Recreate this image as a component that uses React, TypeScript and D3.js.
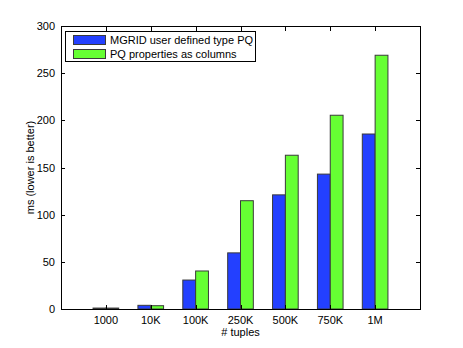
import React, { useEffect, useRef } from 'react';
import * as d3 from 'd3';

const categories = ['1000', '10K', '100K', '250K', '500K', '750K', '1M'];
const mgridValues = [1, 3.9, 30.7, 59.5, 121, 143, 185.5];
const columnValues = [1, 3.5, 40.3, 114.8, 163, 205.4, 269];
const seriesNames = ['MGRID user defined type PQ', 'PQ properties as columns'];
const yTicks = [0, 50, 100, 150, 200, 250, 300];

const App = () => {
  const svgRef = useRef<SVGSVGElement>(null);

  useEffect(() => {
    const width = 463;
    const height = 348;
    const left = 61;
    const right = 420;
    const top = 26;
    const bottom = 309;
    const font = '"Liberation Sans", Arial, sans-serif';
    const colors = ['#2340ff', '#66ff33'];

    const svg = d3.select(svgRef.current)
      .attr('width', width)
      .attr('height', height);

    svg.selectAll('*').remove(); // Clear any previous chart

    const x = d3.scaleLinear().domain([0, categories.length + 1]).range([left, right]);
    const y = d3.scaleLinear().domain([0, 300]).range([bottom, top]);

    // MATLAB grouped bars: group width n/(n+1.5)
    const groupW = 2 / 3.5;
    const barW = groupW / 2;
    const series = [mgridValues, columnValues];

    series.forEach((vals, s) => {
      svg.append('g')
        .selectAll('rect')
        .data(vals)
        .enter().append('rect')
        .attr('x', (d, i) => x(i + 1 - groupW / 2 + s * barW))
        .attr('y', d => y(d))
        .attr('width', x(barW) - x(0))
        .attr('height', d => y(0) - y(d))
        .style('fill', colors[s])
        .style('stroke', '#3a3a3a')
        .style('stroke-width', 1);
    });

    // box
    svg.append('rect')
      .attr('x', left + 0.5)
      .attr('y', top + 0.5)
      .attr('width', right - left)
      .attr('height', bottom - top)
      .style('fill', 'none')
      .style('stroke', '#000')
      .style('stroke-width', 1);

    const tickLen = 4;
    const ticks = svg.append('g').style('stroke', '#000').style('stroke-width', 1);

    categories.forEach((c, i) => {
      const px = Math.round(x(i + 1)) + 0.5;
      ticks.append('line').attr('x1', px).attr('x2', px).attr('y1', bottom).attr('y2', bottom - tickLen);
      ticks.append('line').attr('x1', px).attr('x2', px).attr('y1', top + 1).attr('y2', top + 1 + tickLen);
    });

    yTicks.forEach(t => {
      const py = Math.round(y(t)) + 0.5;
      ticks.append('line').attr('x1', left).attr('x2', left + tickLen).attr('y1', py).attr('y2', py);
      ticks.append('line').attr('x1', right).attr('x2', right - tickLen).attr('y1', py).attr('y2', py);
    });

    svg.append('g')
      .selectAll('text')
      .data(categories)
      .enter().append('text')
      .attr('x', (d, i) => x(i + 1))
      .attr('y', 324)
      .attr('text-anchor', 'middle')
      .style('font-family', font)
      .style('font-size', '11px')
      .text(d => d);

    svg.append('g')
      .selectAll('text')
      .data(yTicks)
      .enter().append('text')
      .attr('x', 55)
      .attr('y', d => y(d) + 4)
      .attr('text-anchor', 'end')
      .style('font-family', font)
      .style('font-size', '11px')
      .text(d => d);

    svg.append('text')
      .attr('x', (left + right) / 2)
      .attr('y', 336)
      .attr('text-anchor', 'middle')
      .style('font-family', font)
      .style('font-size', '11px')
      .text('# tuples');

    svg.append('text')
      .attr('transform', `translate(34,${(top + bottom) / 2})rotate(-90)`)
      .attr('text-anchor', 'middle')
      .style('font-family', font)
      .style('font-size', '11px')
      .text('ms (lower is better)');

    // legend
    const legend = svg.append('g');
    legend.append('rect')
      .attr('x', 65.5)
      .attr('y', 31.5)
      .attr('width', 190)
      .attr('height', 30)
      .style('fill', '#fff')
      .style('stroke', '#000');

    seriesNames.forEach((name, i) => {
      legend.append('rect')
        .attr('x', 73.5)
        .attr('y', 35.5 + i * 14)
        .attr('width', 32)
        .attr('height', 9)
        .style('fill', colors[i])
        .style('stroke', '#3a3a3a');
      legend.append('text')
        .attr('x', 110)
        .attr('y', 44 + i * 14)
        .style('font-family', font)
        .style('font-size', '11px')
        .text(name);
    });
  }, []);

  return (
    <svg ref={svgRef} style={{ position: 'absolute', left: 0, top: 0 }}></svg>
  );
};

export default App;
